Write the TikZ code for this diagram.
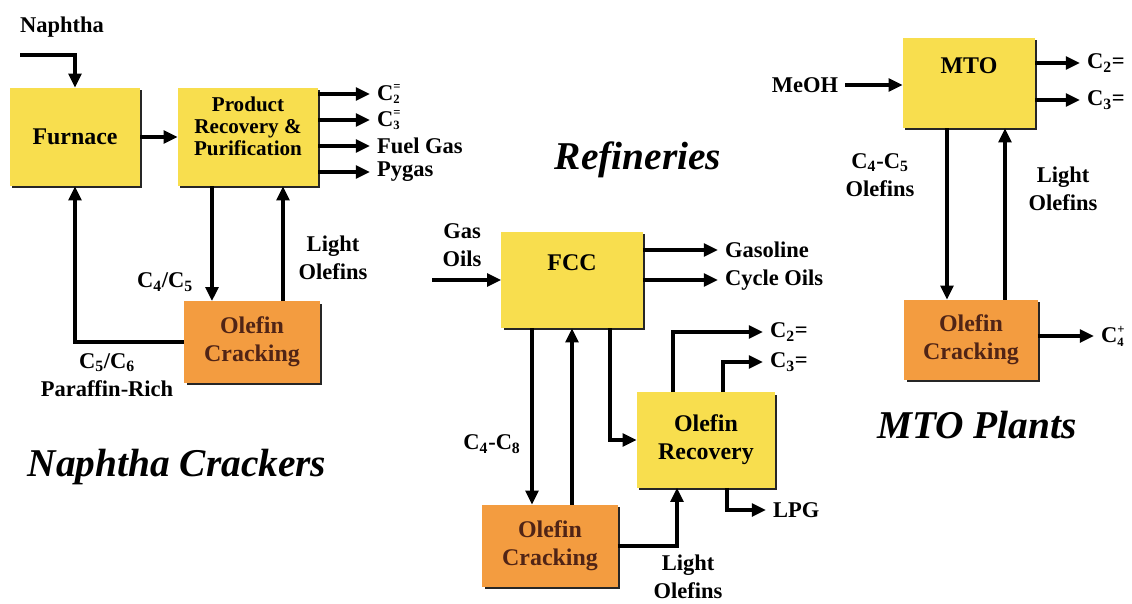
\documentclass[tikz,border=0pt]{standalone}
\usepackage{fontspec}
\setmainfont{Liberation Serif}
\usetikzlibrary{arrows.meta,shadows}
\definecolor{unityellow}{RGB}{248,222,78}
\definecolor{crackorange}{RGB}{243,156,64}
\definecolor{crackink}{RGB}{80,36,22}
\newcommand{\Cud}[2]{C\rlap{\raisebox{-0.3ex}{\fontsize{9}{9}\selectfont #1}}\raisebox{0.95ex}{\fontsize{9}{9}\selectfont #2}}

\begin{document}
\begin{tikzpicture}[x=0.025cm,y=-0.025cm,
  every node/.style={font=\bfseries\fontsize{16}{20}\selectfont,align=center,inner sep=0pt},
  unit/.style={fill=unityellow,drop shadow={shadow xshift=1.6pt,shadow yshift=-1.6pt,fill=black!85,opacity=1},font=\bfseries\fontsize{17}{19}\selectfont},
  cracker/.style={unit,fill=crackorange,text=crackink,font=\bfseries\fontsize{17}{20}\selectfont},
  outlab/.style={anchor=west,outer sep=5pt},
  flow/.style={line width=2.6pt,line join=miter,-{Triangle[length=10pt,width=9pt]}},
  plant/.style={font=\bfseries\itshape\fontsize{28}{30}\selectfont}]
\useasboundingbox (0,0) rectangle (1132,604);

\node[unit,minimum width=3.25cm,minimum height=2.45cm] (furnace) at (75,137) {Furnace};
\node[unit,minimum width=3.5cm,minimum height=2.45cm,font=\bfseries\fontsize{15}{15.5}\selectfont] (recov) at (248,137) {Product\\Recovery \&\\Purification\\\mbox{}};
\node[cracker,minimum width=3.375cm,minimum height=2.03cm] (crackA) at (252,342) {Olefin\\Cracking};
\node[unit,minimum width=3.525cm,minimum height=2.4cm] (fcc) at (572,280) {FCC\\[6pt]\mbox{}};
\node[unit,minimum width=3.45cm,minimum height=2.375cm,font=\bfseries\fontsize{17}{20}\selectfont] (olrec) at (706,440) {Olefin\\Recovery};
\node[cracker,minimum width=3.375cm,minimum height=2.05cm] (crackB) at (550,546) {Olefin\\Cracking};
\node[unit,minimum width=3.3cm,minimum height=2.25cm] (mto) at (969,83) {MTO\\[6pt]\mbox{}};
\node[cracker,minimum width=3.325cm,minimum height=2cm] (crackC) at (971,340) {Olefin\\Cracking};

\node (naphtha) at (62,27) {Naphtha};
\coordinate (naphin) at (20,55);
\node[outlab] (pc2) at (370,94) {\Cud{2}{=}};
\node[outlab] (pc3) at (370,120) {\Cud{3}{=}};
\node[outlab] (fuel) at (370,146) {Fuel Gas};
\node[outlab] (pygas) at (370,172) {Pygas};
\node (ncut) at (165,282) {C\textsubscript{4}/C\textsubscript{5}};
\node (nlight) at (333,258) {Light\\Olefins};
\node (nparaf) at (107,375) {C\textsubscript{5}/C\textsubscript{6}\\Paraffin-Rich};
\node[plant] (tnaph) at (177,467) {Naphtha Crackers};

\node (gasoils) at (462,245) {Gas\\Oils};
\coordinate (gasin) at (432,280);
\node[outlab] (gasoline) at (718,250) {Gasoline};
\node[outlab] (cycle) at (718,280) {Cycle Oils};
\node (rcut) at (492,444) {C\textsubscript{4}-C\textsubscript{8}};
\node[outlab] (rc2) at (763,332) {C\textsubscript{2}=};
\node[outlab] (rc3) at (763,362) {C\textsubscript{3}=};
\node[outlab] (lpg) at (766,510) {LPG};
\node (rlight) at (688,577) {Light\\Olefins};
\node[plant] (tref) at (638,160) {Refineries};

\node[outer sep=5pt] (meoh) at (805,85) {MeOH};
\node[outlab] (mc2) at (1080,63) {C\textsubscript{2}=};
\node[outlab] (mc3) at (1080,100) {C\textsubscript{3}=};
\node[outlab] (mc4) at (1094,336) {\Cud{4}{+}};
\node (mcut) at (880,175) {C\textsubscript{4}-C\textsubscript{5}\\Olefins};
\node (mlight) at (1063,189) {Light\\Olefins};
\node[plant] (tmto) at (977,425) {MTO Plants};

\draw[flow] (naphin) -| (furnace.north);
\draw[flow] (furnace) -- (recov);
\foreach \out in {pc2,pc3,fuel,pygas}
  \draw[flow] (recov.east |- \out.west) -- (\out.west);
\draw[flow] ([xshift=-0.9cm]recov.south) -- ([xshift=-0.9cm]recov.south |- crackA.north);
\draw[flow] ([xshift=0.875cm]recov.south |- crackA.north) -- ([xshift=0.875cm]recov.south);
\draw[flow] (crackA.west) -| (furnace.south);

\draw[flow] (gasin) -- (gasin -| fcc.west);
\foreach \out in {gasoline,cycle}
  \draw[flow] (fcc.east |- \out.west) -- (\out.west);
\draw[flow] ([xshift=-1cm]fcc.south) -- ([xshift=-1cm]fcc.south |- crackB.north);
\draw[flow] (fcc.south |- crackB.north) -- (fcc.south);
\draw[flow] ([xshift=0.95cm]fcc.south) |- (olrec.west);
\draw[flow] (crackB.east) -| ([xshift=-0.725cm]olrec.south);
\draw[flow] ([xshift=-0.825cm]olrec.north) |- (rc2.west);
\draw[flow] ([xshift=0.425cm]olrec.north) |- (rc3.west);
\draw[flow] ([xshift=0.525cm]olrec.south) |- (lpg.west);

\draw[flow] (meoh.east) -- (meoh.east -| mto.west);
\foreach \out in {mc2,mc3}
  \draw[flow] (mto.east |- \out.west) -- (\out.west);
\draw[flow] ([xshift=-0.55cm]mto.south) -- ([xshift=-0.55cm]mto.south |- crackC.north);
\draw[flow] ([xshift=0.9cm]mto.south |- crackC.north) -- ([xshift=0.9cm]mto.south);
\draw[flow] (crackC.east |- mc4.west) -- (mc4.west);
\end{tikzpicture}
\end{document}
